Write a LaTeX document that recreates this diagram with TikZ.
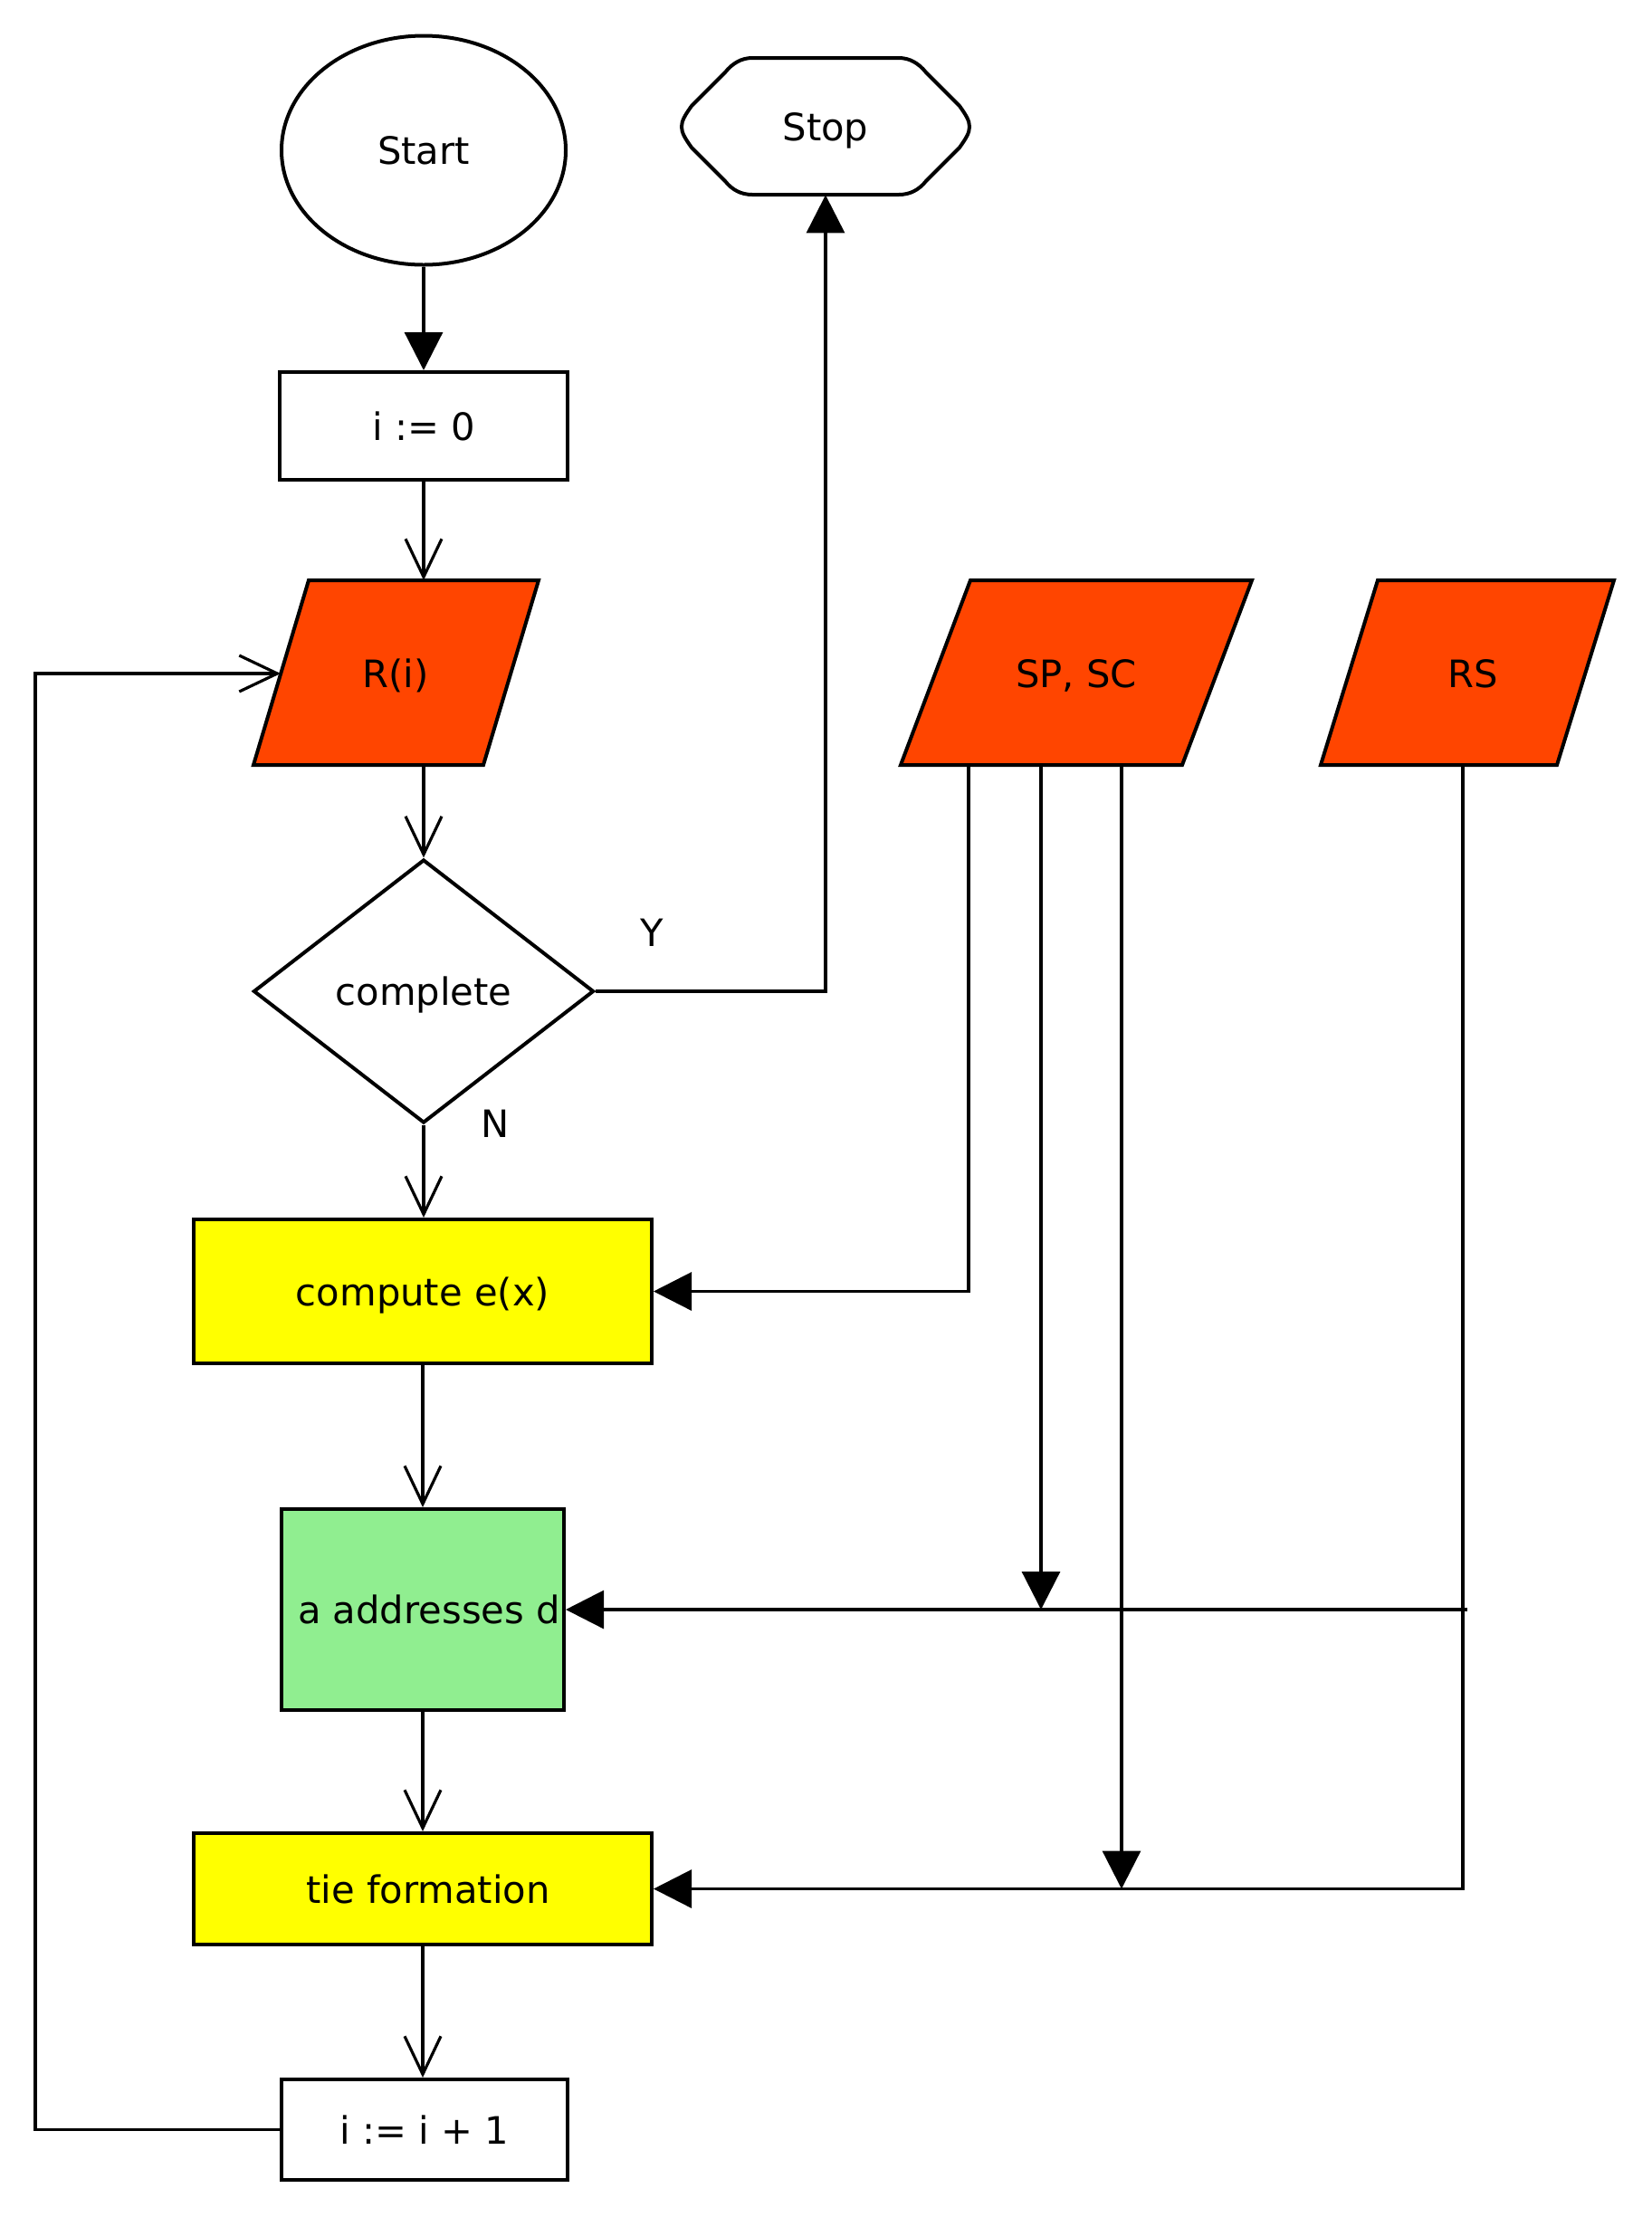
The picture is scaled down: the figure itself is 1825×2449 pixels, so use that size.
\documentclass[tikz,border=0pt]{standalone}
\usepackage{fontspec}
\setmainfont{DejaVu Sans}
\usetikzlibrary{arrows.meta,shapes.geometric}
\definecolor{orred}{HTML}{FF4500}
\definecolor{yel}{HTML}{FFFF00}
\definecolor{lgreen}{HTML}{90EE90}
\begin{document}
\begin{tikzpicture}[x=0.5pt,y=-0.5pt,
  font=\fontsize{20.85pt}{25pt}\selectfont,
  every node/.style={text height=15.6pt, text depth=0pt},
  outline/.style={draw, line width=2pt},
  boxnode/.style={outline, rectangle, inner sep=0pt},
  conn/.style={line width=1.6pt},
  openarr/.style={conn, -{Straight Barb[length=21pt,width=20pt]}},
  fillarr/.style={conn, -{Triangle[length=21pt,width=21pt]}}]
\useasboundingbox (0,0) rectangle (1825,2449);

% Start
\node[outline, ellipse, minimum width=157pt, minimum height=126.5pt, inner sep=0pt] (start) at (468,166) {Start};

% Stop
\draw[outline] (912,64) -- (993,64) .. controls (1005,64) and (1015,70) .. (1023,80) -- (1060,117)
  .. controls (1067,127) and (1071,133) .. (1071,140) .. controls (1071,147) and (1067,153) .. (1060,163)
  -- (1023,200) .. controls (1015,210) and (1005,215) .. (993,215) -- (831,215)
  .. controls (819,215) and (809,210) .. (801,200) -- (764,163)
  .. controls (757,153) and (753,147) .. (753,140) .. controls (753,133) and (757,127) .. (764,117)
  -- (801,80) .. controls (809,70) and (819,64) .. (831,64) -- cycle;
\node[minimum width=160pt, minimum height=75.5pt, inner sep=0pt] (stop) at (912,139.5) {Stop};

% i := 0
\node[boxnode, minimum width=159pt, minimum height=59.5pt] (i0) at (468,470.5) {i := 0};

% R(i)
\draw[outline, fill=orred] (341,641) -- (595,641) -- (534,845) -- (280,845) -- cycle;
\node (R) at (437,744) {R(i)};
\coordinate (Rtop) at (468,641);
\coordinate (Rbot) at (468,845);
\coordinate (Rleft) at (310,744);

% SP, SC
\draw[outline, fill=orred] (1072,641) -- (1383,641) -- (1306,845) -- (995,845) -- cycle;
\node (SP) at (1189,744) {SP, SC};
\coordinate (sp1) at (1070,845);
\coordinate (sp2) at (1150,845);
\coordinate (sp3) at (1239,845);

% RS
\draw[outline, fill=orred] (1522,641) -- (1783,641) -- (1720,845) -- (1459,845) -- cycle;
\node (RS) at (1627,744) {RS};
\coordinate (rs1) at (1616,845);

% decision
\node[outline, diamond, minimum width=188pt, minimum height=145.5pt, inner sep=0pt] (dec) at (468,1095) {complete};

% compute
\node[boxnode, fill=yel, minimum width=253pt, minimum height=79.5pt] (comp) at (467,1426.5) {compute e(x)};

% a addresses d
\node[boxnode, fill=lgreen, minimum width=156pt, minimum height=111pt] (addr) at (467,1778) {};
\node (addrtext) at (474,1778) {a addresses d};

% tie formation
\node[boxnode, fill=yel, minimum width=253pt, minimum height=61.5pt] (tie) at (467,2086.5) {};
\node (tietext) at (473,2086.5) {tie formation};

% i := i + 1
\node[boxnode, minimum width=158pt, minimum height=55.5pt] (inc) at (469,2352.5) {i := i + 1};

% labels
\node (Y) at (720,1030) {Y};
\node (N) at (547,1241) {N};

% connectors
\draw[fillarr] (start.south) -- (i0.north -| start.south);
\draw[openarr] (i0.south) -- (Rtop);
\draw[openarr] (Rbot) -- (dec.north);
\draw[openarr] (dec.south) -- (comp.north -| dec.south);
\draw[fillarr] (dec.east) -| (stop.south);
\draw[openarr] (comp.south) -- (addr.north);
\draw[openarr] (addr.south) -- (tie.north);
\draw[openarr] (tie.south) -- (inc.north -| tie.south);
\coordinate (loop) at (39,2352.5);
\draw[openarr] (inc.west) -- (loop) |- (Rleft);

\draw[fillarr] (sp1) |- (comp.east);
\draw[fillarr] (sp2) -- (sp2 |- addr.east);
\draw[fillarr] (sp3) -- (sp3 |- tie.east);
\draw[fillarr] (rs1) |- (tie.east);
\coordinate (rsmid) at (1621,1778);
\draw[fillarr] (rsmid) -- (addr.east);
\end{tikzpicture}
\end{document}
